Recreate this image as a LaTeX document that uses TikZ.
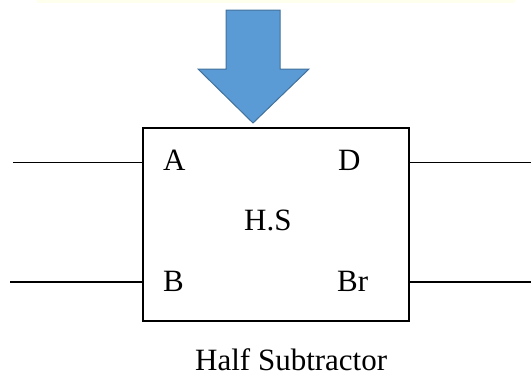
\documentclass[tikz,border=0pt]{standalone}
\usepackage{fontspec}
\setmainfont{Liberation Serif}
\usepackage{xcolor}
\definecolor{arrowfill}{HTML}{5B9BD5}
\definecolor{arrowedge}{HTML}{41719C}
\definecolor{paleyellow}{HTML}{FFFFEE}

\begin{document}
\begin{tikzpicture}[x=1pt, y=-1pt,
  every node/.style={font=\fontsize{31}{37}\selectfont, inner sep=0pt},
  lbl/.style={anchor=base west},
  wire/.style={line width=1.2pt},
  block/.style={draw, line width=2pt, minimum width=266pt, minimum height=193pt},
]
  \useasboundingbox (0,0) rectangle (531,378);
  \fill[paleyellow] (37,0) rectangle (515,2.5);

  % big arrow into the block
  \filldraw[fill=arrowfill, draw=arrowedge, line width=1pt]
    (226,10) -- (280,10) -- (280,69) -- (309,69) -- (253,123)
    -- (198,69) -- (226,69) -- cycle;

  \node[block] (HS) at (276,224.5) {};

  \node[lbl] (A)  at (163,170)   {A};
  \node[lbl] (D)  at (338,170)   {D};
  \node[lbl] (B)  at (163,291.7) {B};
  \node[lbl] (Br) at (337,291.7) {Br};
  \node[lbl] (name) at (244,230.7) {H.S};
  \node[lbl] (caption) at (195,370.5) {Half Subtractor};

  \coordinate (inA)  at (13,162.7);
  \coordinate (inB)  at (10,282);
  \coordinate (outD) at (531,162.7);
  \coordinate (outBr) at (531,282);

  \draw[wire] (inA) -- (inA -| HS.west);
  \draw[wire] (inB) -- (inB -| HS.west);
  \draw[wire] (HS.east |- outD) -- (outD);
  \draw[wire] (HS.east |- outBr) -- (outBr);
\end{tikzpicture}
\end{document}
